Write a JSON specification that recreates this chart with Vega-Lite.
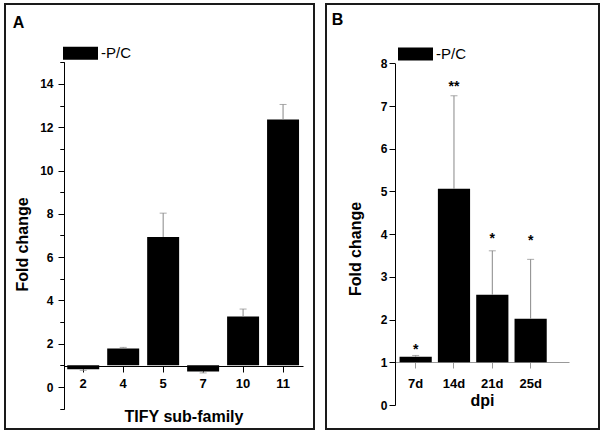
{
  "$schema": "https://vega.github.io/schema/vega-lite/v6.json",
  "padding": {"left": 4, "top": 3, "right": 2, "bottom": 2},
  "config": {
    "view": {"stroke": "#1a1a1a", "strokeWidth": 2},
    "font": "Liberation Sans",
    "axis": {
      "labelFont": "Liberation Sans", "labelFontWeight": "bold", "labelColor": "#000",
      "titleFont": "Liberation Sans", "titleFontWeight": "bold", "titleColor": "#000", "titleFontSize": 16,
      "domainColor": "#000", "tickColor": "#000", "domainWidth": 1, "tickWidth": 1, "grid": false
    },
    "legend": {"padding": 0, "offset": 0}
  },
  "resolve": {"scale": {"color": "independent"}, "legend": {"color": "independent"}},
  "spacing": 10,
  "hconcat": [
    {
      "width": 309, "height": 425,
      "data": {"values": [
        {"tf": "2", "fc": 0.82, "err": 0.77},
        {"tf": "4", "fc": 1.78, "err": 1.83},
        {"tf": "5", "fc": 6.93, "err": 8.03},
        {"tf": "7", "fc": 0.72, "err": 0.65},
        {"tf": "10", "fc": 3.26, "err": 3.6},
        {"tf": "11", "fc": 12.35, "err": 13.05}
      ]},
      "resolve": {"axis": {"y": "independent"}},
      "layer": [
        {
          "mark": {"type": "bar", "color": "#000"},
          "encoding": {
            "x": {"field": "tf", "type": "nominal",
              "scale": {"domain": ["2", "4", "5", "7", "10", "11"], "range": [59, 298], "paddingInner": 0.2, "paddingOuter": 0.09, "align": 0.45},
              "axis": {"orient": "bottom", "offset": -63, "labelAngle": 0, "tickSize": 6, "labelPadding": 15.7, "labelBaseline": "alphabetic", "labelFontSize": 13,
                "title": "TIFY sub-family", "titleX": 178.5, "titleY": 55, "titleAlign": "center", "titleBaseline": "alphabetic"}},
            "y": {"field": "fc", "type": "quantitative",
              "scale": {"domain": [-1, 15], "range": [404.65, 58.25], "nice": false, "zero": false},
              "axis": {"orient": "left", "offset": -59, "values": [0, 2, 4, 6, 8, 10, 12, 14],
                "tickSize": 6, "labelOverlap": false,
                "labelPadding": 5, "labelFontSize": 12,
                "title": "Fold change", "titleAngle": 270, "titleX": -41.5, "titleY": 240, "titleAlign": "center", "titleBaseline": "middle"}},
            "y2": {"datum": 1},
            "color": {"datum": "-P/C", "type": "nominal", "scale": {"range": ["#000000"]},
              "legend": {"orient": "none", "legendX": 7.7, "legendY": 11.4, "title": "A",
                "titleFont": "Liberation Sans", "titleFontWeight": "bold", "titleFontSize": 16, "titleColor": "#000", "titleBaseline": "top", "titlePadding": 4.3, "titleAnchor": "start",
                "symbolOffset": 50.3,
                "symbolType": "M-1,-0.371L1,-0.371L1,0.371L-1,0.371Z", "symbolSize": 1225, "symbolStrokeWidth": 0,
                "labelFontSize": 15, "labelFont": "Liberation Sans", "labelColor": "#000", "labelOffset": 3}}
          }
        },
        {
          "mark": {"type": "rule", "color": "#888", "strokeWidth": 1},
          "encoding": {
            "x": {"field": "tf", "type": "nominal"},
            "y": {"field": "fc", "type": "quantitative",
              "axis": {"orient": "left", "offset": -59, "values": [-1, 1, 3, 5, 7, 9, 11, 13, 15], "labels": false, "domain": true, "tickSize": 4, "title": null}},
            "y2": {"field": "err"}
          }
        },
        {
          "mark": {"type": "tick", "color": "#888", "thickness": 1, "size": 7},
          "encoding": {
            "x": {"field": "tf", "type": "nominal"},
            "y": {"field": "err", "type": "quantitative",
              "axis": {"orient": "left", "offset": -59, "values": [-1, 1, 3, 5, 7, 9, 11, 13, 15], "labels": false, "domain": true, "tickSize": 4, "title": null}}
          }
        }
      ]
    },
    {
      "width": 273, "height": 425,
      "data": {"values": [
        {"dpi": "7d", "fc": 1.13, "err": 1.16, "sig": "*", "sy": 1.37},
        {"dpi": "14d", "fc": 5.06, "err": 7.24, "sig": "**", "sy": 7.54},
        {"dpi": "21d", "fc": 2.58, "err": 3.61, "sig": "*", "sy": 3.97},
        {"dpi": "25d", "fc": 2.02, "err": 3.41, "sig": "*", "sy": 3.94}
      ]},
      "layer": [
        {
          "mark": {"type": "bar", "color": "#000"},
          "encoding": {
            "x": {"field": "dpi", "type": "nominal",
              "scale": {"domain": ["7d", "14d", "21d", "25d"], "range": [69, 243], "paddingInner": 0.16, "paddingOuter": 0.35, "align": 0.17},
              "axis": {"orient": "bottom", "offset": -67, "labelAngle": 0, "tickSize": 6, "labelPadding": 19, "labelBaseline": "alphabetic", "labelFontSize": 13,
                "domainColor": "#999", "tickColor": "#999",
                "title": "dpi", "titleX": 156, "titleY": 43.5, "titleAlign": "center", "titleBaseline": "alphabetic"}},
            "y": {"field": "fc", "type": "quantitative",
              "scale": {"domain": [0, 8], "range": [401, 59.3], "nice": false, "zero": false},
              "axis": {"orient": "left", "offset": -69, "values": [0, 1, 2, 3, 4, 5, 6, 7, 8],
                "tickSize": 6, "labelPadding": 2, "labelFontSize": 12,
                "title": "Fold change", "titleAngle": 270, "titleX": -40, "titleY": 244.5, "titleAlign": "center", "titleBaseline": "middle"}},
            "y2": {"datum": 1},
            "color": {"datum": "-P/C", "type": "nominal", "scale": {"range": ["#000000"]},
              "legend": {"orient": "none", "legendX": 5.7, "legendY": 7.7, "title": "B",
                "titleFont": "Liberation Sans", "titleFontWeight": "bold", "titleFontSize": 16, "titleColor": "#000", "titleBaseline": "top", "titlePadding": 8.8, "titleAnchor": "start",
                "symbolOffset": 66.3,
                "symbolType": "M-1,-0.371L1,-0.371L1,0.371L-1,0.371Z", "symbolSize": 1225, "symbolStrokeWidth": 0,
                "labelFontSize": 15, "labelFont": "Liberation Sans", "labelColor": "#000", "labelOffset": 3}}
          }
        },
        {
          "mark": {"type": "rule", "color": "#888", "strokeWidth": 1},
          "encoding": {
            "x": {"field": "dpi", "type": "nominal"},
            "y": {"field": "fc", "type": "quantitative"},
            "y2": {"field": "err"}
          }
        },
        {
          "mark": {"type": "tick", "color": "#888", "thickness": 1, "size": 7},
          "encoding": {
            "x": {"field": "dpi", "type": "nominal"},
            "y": {"field": "err", "type": "quantitative"}
          }
        },
        {
          "mark": {"type": "text", "font": "Liberation Sans", "fontWeight": "bold", "fontSize": 14, "baseline": "alphabetic", "dy": 8, "color": "#000"},
          "encoding": {
            "x": {"field": "dpi", "type": "nominal"},
            "y": {"field": "sy", "type": "quantitative"},
            "text": {"field": "sig"}
          }
        }
      ]
    }
  ]
}
